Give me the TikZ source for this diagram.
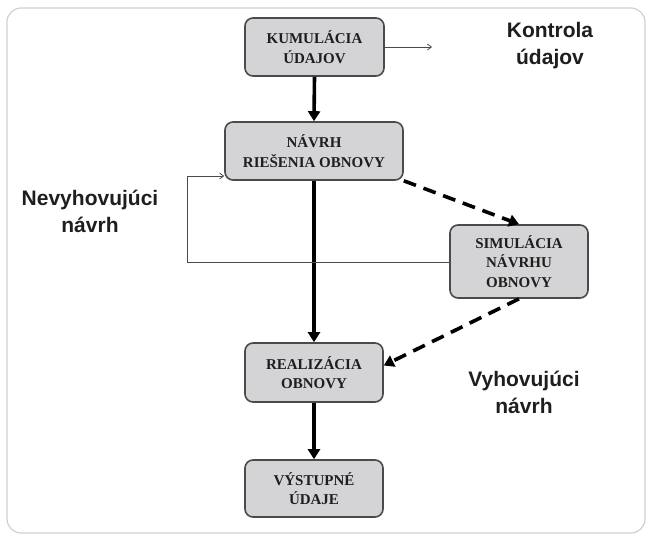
\documentclass[tikz,border=0pt]{standalone}
\usepackage{fontspec}
\setmainfont{Liberation Serif}
\newfontfamily\labelfont{Liberation Sans}
\usetikzlibrary{arrows.meta}
\definecolor{boxfill}{HTML}{D4D4D6}
\definecolor{boxline}{HTML}{4A4A4A}
\definecolor{framecol}{HTML}{CFCFCF}
\definecolor{inkcol}{HTML}{1E1E1E}
\begin{document}
\begin{tikzpicture}[x=1pt,y=-1pt,
  procbox/.style={draw=boxline, fill=boxfill, line width=1.6pt, rounded corners=8pt,
    inner sep=0pt, align=center, text=inkcol,
    font=\fontsize{15}{19.5}\selectfont\bfseries},
  sidelabel/.style={align=center, text=inkcol, inner sep=0pt,
    font=\labelfont\fontsize{21}{27}\selectfont\bfseries},
  mainflow/.style={line width=3.6pt, -{Triangle[length=10pt,width=12pt]}},
  altflow/.style={line width=3.6pt, dash pattern=on 13pt off 8pt, -{Triangle[length=10pt,width=12pt]}},
  thinflow/.style={line width=0.8pt, draw=boxline, -{Straight Barb[length=4pt,width=6pt]}}
]
\useasboundingbox (0,0) rectangle (648,535);
% outer frame
\draw[framecol, line width=1.2pt, rounded corners=14pt] (7,8) rectangle (645,533);

% process boxes
\node[procbox, minimum width=139pt, minimum height=58pt] (kum) at (314.5,47) {KUMULÁCIA\\ÚDAJOV};
\node[procbox, minimum width=178pt, minimum height=58pt] (nav) at (314,151) {NÁVRH\\RIEŠENIA OBNOVY};
\node[procbox, minimum width=138pt, minimum height=73pt] (sim) at (519,261.5) {SIMULÁCIA\\NÁVRHU\\OBNOVY};
\node[procbox, minimum width=138pt, minimum height=59pt] (real) at (314,372.5) {REALIZÁCIA\\OBNOVY};
\node[procbox, minimum width=138pt, minimum height=57pt] (vys) at (314,488.5) {VÝSTUPNÉ\\ÚDAJE};

% side labels
\node[sidelabel] (kontrola) at (550,46) {Kontrola\\údajov};
\node[sidelabel] (nevyh) at (90,211) {Nevyhovujúci\\návrh};
\node[sidelabel] (vyh) at (524,392) {Vyhovujúci\\návrh};

% connectors
\coordinate (kout) at (432,47);
\coordinate (fb) at (187,176);
\draw[thinflow] (kum.east) -- (kout);
\draw[mainflow] (kum.south) -- (nav.north);
\draw[mainflow] (nav.south) -- (real.north);
\draw[mainflow] (real.south) -- (vys.north);
\draw[altflow] (nav.south east) -- (sim.north);
\draw[altflow] (sim.south) -- ([yshift=7pt]real.east);
\draw[thinflow] ([yshift=-1pt]sim.west) -| (fb) -- (fb -| nav.west);
\end{tikzpicture}
\end{document}
